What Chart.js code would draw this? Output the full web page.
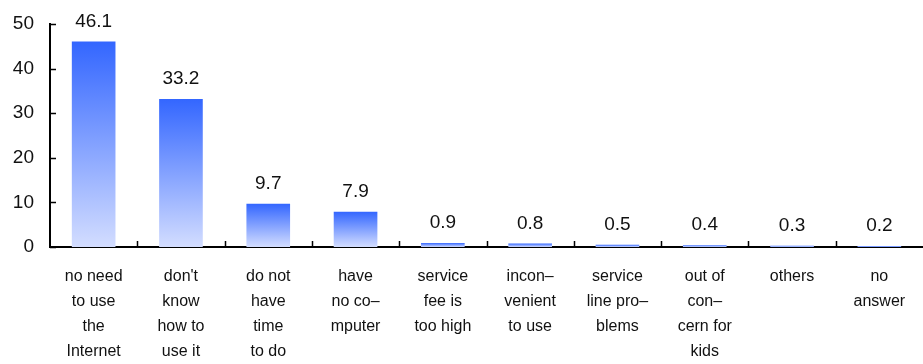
<!DOCTYPE html>
<html>
<head>
<meta charset="utf-8">
<script src="https://cdn.jsdelivr.net/npm/chart.js@4"></script>
<style>
  body { margin: 0; background: #fff; }
  #wrap { width: 923px; height: 364px; }
</style>
</head>
<body>
<div id="wrap"><canvas id="reasonChart" width="923" height="364"></canvas></div>
<script>
const categories = [
    ["no need", "to use", "the", "Internet"],
    ["don't", "know", "how to", "use it"],
    ["do not", "have", "time", "to do"],
    ["have", "no co\u2013", "mputer"],
    ["service", "fee is", "too high"],
    ["incon\u2013", "venient", "to use"],
    ["service", "line pro\u2013", "blems"],
    ["out of", "con\u2013", "cern for", "kids"],
    ["others"],
    ["no", "answer"]
];
const percents = [46.1, 33.2, 9.7, 7.9, 0.9, 0.8, 0.5, 0.4, 0.3, 0.2];
const yTicks = [0, 10, 20, 30, 40, 50];

const fontFamily = "'Liberation Sans', Arial, sans-serif";

// gradient per bar, from its top down to the base
function barGradient(context) {
    const chart = context.chart;
    if (!chart.chartArea) return "#6f8fff";
    const yScale = chart.scales.y;
    const top = yScale.getPixelForValue(context.raw);
    const bottom = yScale.getPixelForValue(0);
    const grad = chart.ctx.createLinearGradient(0, top, 0, bottom + 0.01);
    grad.addColorStop(0, "#3366ff");
    grad.addColorStop(1, "#d3ddff");
    return grad;
}

// short tick marks pointing into the plot, and the value labels
const marksPlugin = {
    id: "marks",
    afterDatasetsDraw(chart) {
        const ctx = chart.ctx;
        const x = chart.scales.x;
        const y = chart.scales.y;
        const area = chart.chartArea;
        ctx.save();
        ctx.strokeStyle = "#000";
        ctx.lineWidth = 1.5;
        ctx.beginPath();
        y.ticks.forEach(t => {
            const py = Math.round(y.getPixelForValue(t.value)) + 0.5;
            ctx.moveTo(area.left, py);
            ctx.lineTo(area.left + 6, py);
        });
        for (let i = 1; i < categories.length; i++) {
            const px = Math.round((x.getPixelForValue(i - 1) + x.getPixelForValue(i)) / 2) + 0.5;
            ctx.moveTo(px, area.bottom);
            ctx.lineTo(px, area.bottom - 6);
        }
        ctx.stroke();

        ctx.fillStyle = "#111";
        ctx.font = "19px " + fontFamily;
        ctx.textAlign = "center";
        ctx.textBaseline = "middle";
        const meta = chart.getDatasetMeta(0);
        meta.data.forEach((bar, i) => {
            ctx.fillText(percents[i].toFixed(1), bar.x, Math.max(bar.y - 20, 17));
        });
        ctx.restore();
    }
};

new Chart(document.getElementById("reasonChart"), {
    type: "bar",
    data: {
        labels: categories,
        datasets: [{
            data: percents,
            backgroundColor: barGradient,
            borderWidth: 0,
            categoryPercentage: 1,
            barPercentage: 0.5
        }]
    },
    options: {
        responsive: false,
        animation: false,
        layout: { padding: { top: 24, right: 0, left: 0, bottom: 0 } },
        plugins: {
            legend: { display: false },
            tooltip: { enabled: false }
        },
        scales: {
            x: {
                grid: { display: false, drawTicks: false },
                border: { display: true, color: "#000", width: 2 },
                ticks: {
                    color: "#111",
                    font: { family: fontFamily, size: 16, lineHeight: 1.56 },
                    padding: 17,
                    maxRotation: 0,
                    autoSkip: false
                },
                afterFit(scale) { scale.height = 117; }
            },
            y: {
                min: 0,
                max: 50,
                afterBuildTicks(scale) {
                    scale.ticks = yTicks.map(v => ({ value: v }));
                },
                grid: { display: false, drawTicks: false },
                border: { display: true, color: "#000", width: 2 },
                ticks: {
                    color: "#111",
                    font: { family: fontFamily, size: 19 },
                    padding: 16
                },
                afterFit(scale) {
                    scale.width = 50;
                    scale.paddingTop = 0;
                    scale.paddingBottom = 0;
                }
            }
        }
    },
    plugins: [marksPlugin]
});
</script>
</body>
</html>
